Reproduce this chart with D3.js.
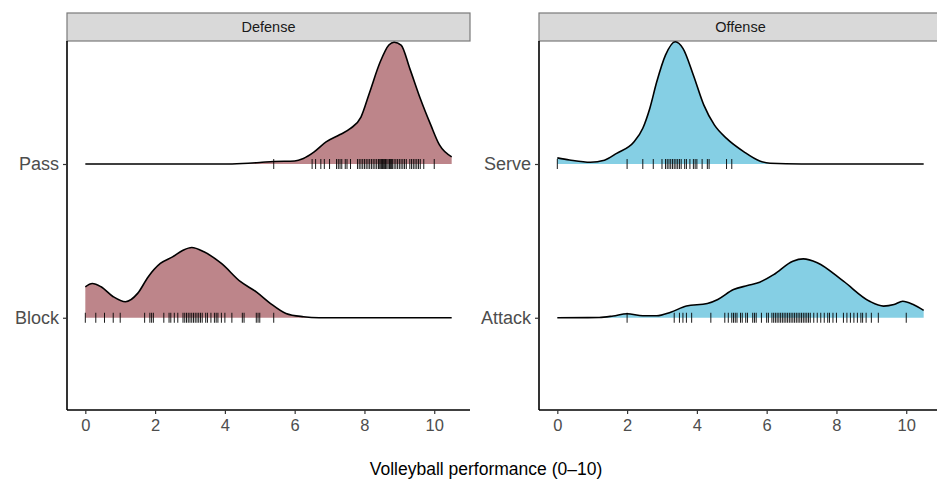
<!DOCTYPE html>
<html>
<head>
<meta charset="utf-8">
<script src="https://cdn.jsdelivr.net/npm/d3@7"></script>
<style>
  body { margin: 0; background: #fff; }
  #container { width: 937px; height: 479px; overflow: hidden; }
  text { font-family: "Liberation Sans", Arial, sans-serif; }
</style>
</head>
<body>
<div id="container"></div>
<script>
// facets and rows
var facets = ['Defense', 'Offense'];
var rows = { Defense: ['Block', 'Pass'], Offense: ['Attack', 'Serve'] };
var fills = { Defense: '#bd858a', Offense: '#85cfe4' };
var xTicks = [0, 2, 4, 6, 8, 10];

// density curves: [score, density]
var passDensity = [[0, 0], [4, 0], [4.5, 0.002], [5, 0.006], [5.4, 0.01], [6, 0.012], [6.25, 0.022],
	[6.55, 0.047], [6.9, 0.087], [7.3, 0.116], [7.6, 0.14], [7.9, 0.185], [8.15, 0.283], [8.45, 0.402],
	[8.7, 0.469], [8.85, 0.48], [9.05, 0.469], [9.3, 0.376], [9.6, 0.258], [9.9, 0.154], [10.15, 0.075], [10.5, 0.028]];
var blockDensity = [[0, 0.122], [0.2, 0.135], [0.45, 0.122], [0.8, 0.083], [1.15, 0.063], [1.5, 0.096],
	[1.8, 0.161], [2.15, 0.214], [2.5, 0.24], [2.8, 0.266], [3.05, 0.277], [3.4, 0.26], [3.9, 0.214],
	[4.45, 0.142], [4.9, 0.102], [5.3, 0.057], [5.75, 0.017], [6.25, 0.004], [6.7, 0], [10.5, 0]];
var serveDensity = [[0, 0.024], [0.35, 0.016], [0.95, 0.007], [1.35, 0.015], [1.7, 0.042], [2.2, 0.088],
	[2.45, 0.141], [2.65, 0.219], [2.85, 0.324], [3.1, 0.429], [3.38, 0.482], [3.6, 0.456], [3.9, 0.35],
	[4.2, 0.232], [4.5, 0.154], [4.85, 0.101], [5.35, 0.048], [5.8, 0.012], [6.1, 0.003], [7, 0], [10.5, 0]];
var attackDensity = [[0, 0], [1.2, 0.001], [1.6, 0.007], [2.0, 0.016], [2.45, 0.008], [2.85, 0.008],
	[3.25, 0.022], [3.7, 0.046], [4.3, 0.056], [4.6, 0.072], [5.05, 0.111], [5.45, 0.127], [5.8, 0.14],
	[6.2, 0.17], [6.75, 0.223], [7.05, 0.232], [7.45, 0.217], [8.2, 0.144], [8.95, 0.065], [9.35, 0.046],
	[9.65, 0.052], [9.9, 0.065], [10.2, 0.052], [10.5, 0.029]];

// individual scores (rug)
var passScores = [5.4, 6.5, 6.6, 6.75, 6.85, 7.0, 7.2, 7.25, 7.3, 7.35, 7.45, 7.5, 7.6, 7.8, 7.85, 7.9,
	7.95, 8.0, 8.05, 8.1, 8.15, 8.2, 8.25, 8.3, 8.35, 8.4, 8.42, 8.45, 8.48, 8.5, 8.52, 8.55, 8.58, 8.6,
	8.62, 8.65, 8.7, 8.72, 8.75, 8.78, 8.8, 8.85, 8.9, 8.95, 9.0, 9.05, 9.1, 9.15, 9.2, 9.3, 9.35, 9.4,
	9.45, 9.5, 9.55, 9.6, 9.7, 10.0];
var blockScores = [0, 0.3, 0.55, 0.8, 1.0, 1.7, 1.85, 1.9, 1.95, 2.25, 2.4, 2.45, 2.55, 2.65, 2.8, 2.85,
	2.9, 2.95, 3.0, 3.05, 3.1, 3.15, 3.2, 3.25, 3.3, 3.35, 3.45, 3.5, 3.6, 3.7, 3.75, 3.8, 3.9, 4.0, 4.2,
	4.5, 4.55, 4.9, 4.95, 5.0, 5.4];
var serveScores = [0, 2.0, 2.45, 2.75, 3.0, 3.1, 3.15, 3.2, 3.25, 3.3, 3.35, 3.4, 3.45, 3.5, 3.55, 3.65,
	3.7, 3.8, 3.9, 3.95, 4.0, 4.15, 4.3, 4.35, 4.85, 5.0];
var attackScores = [2.0, 3.35, 3.5, 3.6, 3.7, 3.85, 4.4, 4.8, 4.9, 5.0, 5.05, 5.1, 5.15, 5.25, 5.3, 5.4,
	5.45, 5.6, 5.65, 5.7, 5.85, 6.0, 6.05, 6.15, 6.2, 6.25, 6.3, 6.35, 6.4, 6.45, 6.5, 6.55, 6.6, 6.65,
	6.7, 6.75, 6.8, 6.85, 6.9, 6.95, 7.0, 7.05, 7.1, 7.15, 7.2, 7.25, 7.35, 7.45, 7.55, 7.65, 7.75, 7.8,
	7.9, 8.0, 8.2, 8.3, 8.4, 8.5, 8.6, 8.7, 8.75, 8.85, 9.0, 9.2, 10.0];

var densities = { Pass: passDensity, Block: blockDensity, Serve: serveDensity, Attack: attackDensity };
var scores = { Pass: passScores, Block: blockScores, Serve: serveScores, Attack: attackScores };

var width = 937, height = 479;
var svg = d3.select('#container').append('svg')
	.attr('width', width)
	.attr('height', height);

var panelTop = 41, panelBottom = 410, stripH = 28;
var panelLefts = [67, 539], panelW = 403;
var ridgeScale = 1.65; // density -> row units

var y = d3.scaleLinear().domain([0.4, 2.8]).range([panelBottom, panelTop]);

facets.forEach(function(f, i) {
	var left = panelLefts[i];
	var x = d3.scaleLinear().domain([-0.525, 11.025]).range([left, left + panelW]);
	var g = svg.append('g');

	// strip
	g.append('rect')
		.attr('x', left).attr('y', panelTop - stripH)
		.attr('width', panelW).attr('height', stripH)
		.style('fill', '#d9d9d9')
		.attr('stroke', '#7a7a7a').attr('stroke-width', 1.2);
	g.append('text')
		.attr('x', left + panelW / 2).attr('y', panelTop - stripH / 2)
		.attr('dy', '0.35em')
		.attr('text-anchor', 'middle')
		.style('font-size', '14.5px').style('fill', '#1a1a1a')
		.text(f);

	// ridges, top row first so lower rows draw over
	rows[f].slice().reverse().forEach(function(r) {
		var k = rows[f].indexOf(r) + 1;
		var dens = densities[r];
		var area = d3.area()
			.x(function(d) { return x(d[0]); })
			.y0(y(k))
			.y1(function(d) { return y(k + d[1] * ridgeScale); })
			.curve(d3.curveMonotoneX);
		var line = d3.line()
			.x(function(d) { return x(d[0]); })
			.y(function(d) { return y(k + d[1] * ridgeScale); })
			.curve(d3.curveMonotoneX);

		g.append('path').datum(dens)
			.attr('d', area)
			.style('fill', fills[f]);

		g.selectAll(null).data(scores[r]).enter().append('line')
			.attr('x1', function(d) { return x(d); })
			.attr('x2', function(d) { return x(d); })
			.attr('y1', y(k) - 5).attr('y2', y(k) + 5)
			.attr('stroke', '#000').attr('stroke-width', 0.9);

		g.append('path').datum(dens)
			.attr('d', line)
			.style('fill', 'none')
			.attr('stroke', '#000').attr('stroke-width', 1.6);
	});

	// axes
	var xAxis = g.append('g')
		.attr('transform', 'translate(0,' + panelBottom + ')')
		.call(d3.axisBottom(x).tickValues(xTicks).tickSize(4).tickPadding(5).tickSizeOuter(0));
	xAxis.select('.domain').attr('stroke', '#000').attr('stroke-width', 1.6)
		.attr('d', 'M' + left + ',0H' + (left + panelW));
	xAxis.selectAll('.tick line').attr('stroke', '#333').attr('stroke-width', 1.2);
	xAxis.selectAll('.tick text').style('font-size', '16.5px').style('fill', '#4d4d4d')
		.style('font-family', '"Liberation Sans", Arial, sans-serif');

	var yAxis = g.append('g')
		.attr('transform', 'translate(' + left + ',0)')
		.call(d3.axisLeft(y).tickValues([1, 2]).tickFormat(function(d) { return rows[f][d - 1]; })
			.tickSize(4).tickPadding(4).tickSizeOuter(0));
	yAxis.select('.domain').attr('stroke', '#000').attr('stroke-width', 1.6)
		.attr('d', 'M0,' + panelTop + 'V' + panelBottom);
	yAxis.selectAll('.tick line').attr('stroke', '#333').attr('stroke-width', 1.2);
	yAxis.selectAll('.tick text').style('font-size', '18px').style('fill', '#4d4d4d')
		.style('font-family', '"Liberation Sans", Arial, sans-serif');
});

svg.append('text')
	.attr('x', 486)
	.attr('y', 475)
	.attr('text-anchor', 'middle')
	.style('font-size', '17.5px').style('fill', '#000')
	.text('Volleyball performance (0\u201310)');
</script>
</body>
</html>
